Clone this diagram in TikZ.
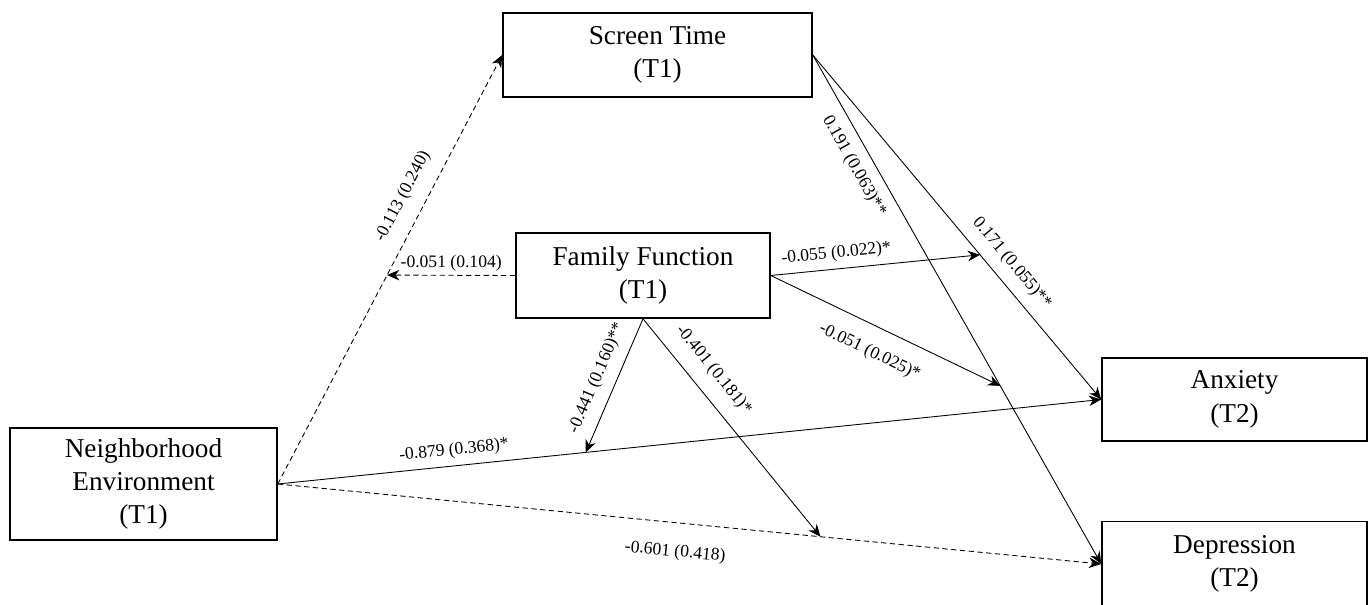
\documentclass[tikz,border=0pt]{standalone}
\usepackage{fontspec}
\setmainfont{Liberation Serif}
\usetikzlibrary{arrows.meta}
\tikzset{>={Stealth[length=7pt,width=6pt]}}
\tikzset{var/.style={draw, line width=0.9pt, align=center, inner sep=0pt, font=\fontsize{15.5}{19}\selectfont},
coef/.style={font=\fontsize{10}{12}\selectfont, sloped, inner sep=2pt},
path/.style={->, line width=0.5pt}}

\begin{document}
\begin{tikzpicture}
\useasboundingbox (0,0) rectangle (27.42,12.08);
\node[var, minimum width=5.34cm, minimum height=2.24cm] (NE) at (2.87,2.40) {Neighborhood\\Environment\\(T1)};
\node[var, minimum width=6.18cm, minimum height=1.68cm] (ST) at (13.15,10.98) {Screen Time\\(T1)};
\node[var, minimum width=5.08cm, minimum height=1.70cm] (FF) at (12.86,6.57) {Family Function\\(T1)};
\node[var, minimum width=5.30cm, minimum height=1.66cm] (AX) at (24.69,4.09) {Anxiety\\(T2)};
\node[var, minimum width=5.30cm, minimum height=1.70cm] (DP) at (24.69,0.80) {Depression\\(T2)};
% direct paths
\draw[path, densely dashed] (NE.east) -- coordinate[pos=0.487] (m1) node[coef, above=6pt, pos=0.646] {-0.113 (0.240)} (ST.west);
\draw[path] (ST.east) -- coordinate[pos=0.58] (m2) node[coef, above=4pt, pos=0.64] {0.171 (0.055)**} (AX.west);
\draw[path] (ST.east) -- coordinate[pos=0.65] (m3) node[coef, below=4pt, pos=0.2] {0.191 (0.063)**} (DP.west);
\draw[path] (NE.east) -- coordinate[pos=0.374] (m4) node[coef, above=2pt, pos=0.216] {-0.879 (0.368)*} (AX.west);
\draw[path, densely dashed] (NE.east) -- coordinate[pos=0.659] (m5) node[coef, below=10pt, pos=0.486] {-0.601 (0.418)} (DP.west);
% moderation paths
\draw[path, densely dashed] (FF.west) -- node[coef, above] {-0.051 (0.104)} (m1);
\draw[path] (FF.east) -- node[coef, above=2pt, pos=0.32] {-0.055 (0.022)*} (m2);
\draw[path] (FF.east) -- node[coef, below=8pt, pos=0.48] {-0.051 (0.025)*} (m3);
\draw[path] (FF.south) -- node[coef, above=4pt, pos=0.5] {-0.441 (0.160)**} (m4);
\draw[path] (FF.south) -- node[coef, above=6pt, pos=0.3] {-0.401 (0.181)*} (m5);
\end{tikzpicture}
\end{document}
